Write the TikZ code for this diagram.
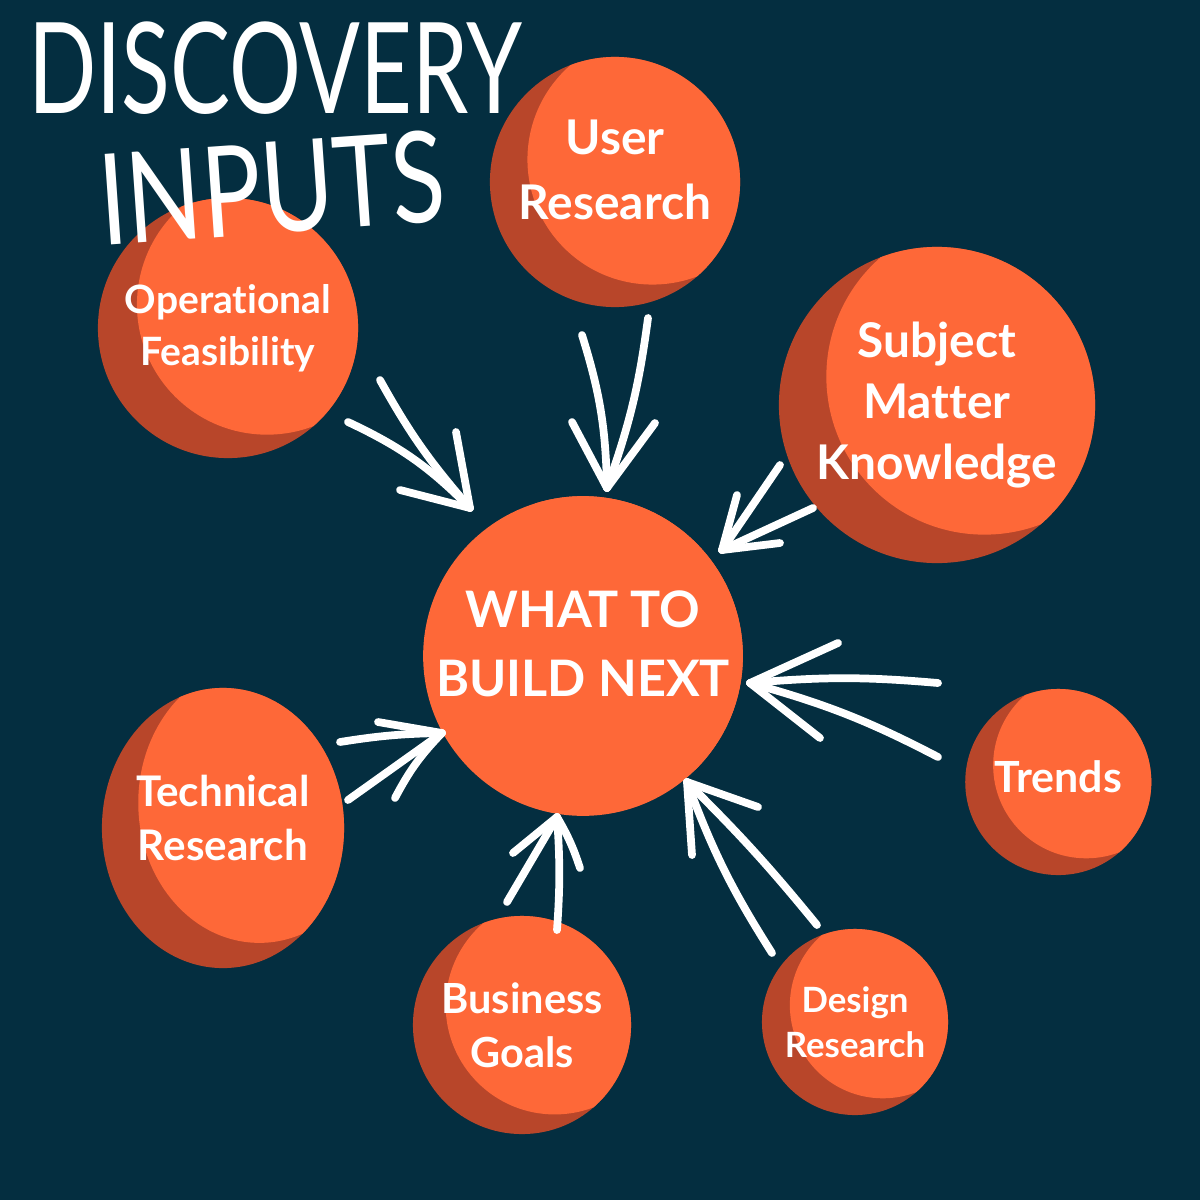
\documentclass[tikz,border=0pt]{standalone}
\usepackage{fontspec}
\setmainfont{Lato}[Ligatures=NoCommon]
\usetikzlibrary{positioning,calc,shapes.geometric}
\definecolor{navy}{RGB}{4,46,64}
\definecolor{orng}{RGB}{254,104,56}
\definecolor{rust}{RGB}{184,70,42}

\begin{document}
\begin{tikzpicture}[x=0.01cm,y=-0.01cm,
  bub/.style={circle,fill=rust,text=white,align=center,inner sep=0pt,minimum size=#1,
    path picture={\fill[orng] ([xshift=0.15*#1,yshift=0.09*#1]path picture bounding box.center) circle ({#1/2});}},
  egg/.style 2 args={ellipse,fill=rust,text=white,align=center,inner sep=0pt,inner xsep=-0.25cm,
    minimum width=#1,minimum height=#2,
    path picture={\fill[orng] ([xshift=0.15*#1,yshift=0.09*#2]path picture bounding box.center)
      ellipse [x radius={#1/2},y radius={#2/2}];}},
  lbl/.style 2 args={font=\fontsize{#1}{#2}\selectfont\bfseries},
  pen/.style={white,line width=2.2pt,line cap=round},
  title/.style={white,inner sep=0pt,font=\fontsize{36}{36}\selectfont}]
\fill[navy] (0,0) rectangle (1200,1200);

\node[bub=2.5cm,lbl={13.6}{18.5},text depth=0.24cm] (user) at (615,182) {User\\Research};
\node[bub=2.6cm,lbl={11.1}{14.8}] (oper) at (228,328) {Operational\\Feasibility};
\node[bub=3.16cm,lbl={13.6}{17.4}] (subj) at (937,405) {Subject\\Matter\\Knowledge};
\node[bub=3.12cm,fill=orng,lbl={14.3}{19.6},text depth=0.24cm] (next) at (583,656) {WHAT TO\\BUILD NEXT};
\node[egg={2.42cm}{2.8cm},lbl={12}{15.4},text depth=0.2cm] (tech) at (223,828) {Technical\\Research};
\node[bub=1.86cm,lbl={12.2}{15},text depth=0.1cm,xshift=1.5pt] (trend) at (1053,782) {Trends};
\node[bub=2.18cm,lbl={11.8}{15.4}] (biz) at (522,1025) {Business\\Goals};
\node[bub=1.86cm,lbl={9.9}{12.8}] (design) at (855,1022) {Design\\Research};

\node[title,xscale=0.71] (disc) at (275,68) {DISCOVERY};
\node[title,rotate=4,xscale=0.78] (inp) at (272,188) {INPUTS};

\coordinate (t1) at (470,508);
\draw[pen] (t1) to[bend left=6] ++(-90,-128);
\draw[pen] (t1) to[bend right=10] ++(-122,-86);
\draw[pen] (t1) -- ++(-70,-18);
\draw[pen] (t1) -- ++(-14,-76);

\coordinate (t2) at (607,488);
\draw[pen] (t2) to[bend right=8] ++(-25,-153);
\draw[pen] (t2) to[bend right=6] ++(41,-170);
\draw[pen] (t2) -- ++(-35,-66);
\draw[pen] (t2) -- ++(48,-65);

\coordinate (t3) at (722,550);
\draw[pen] (t3) -- ++(58,-85);
\draw[pen] (t3) -- ++(91,-42);
\draw[pen] (t3) -- ++(15,-55);
\draw[pen] (t3) -- ++(58,-7);

\coordinate (t4) at (750,683);
\draw[pen] (t4) -- ++(88,-40);
\draw[pen] (t4) to[bend left=5] ++(188,0);
\draw[pen] (t4) to[bend left=6] ++(188,74);
\draw[pen] (t4) -- ++(70,55);

\coordinate (t5) at (442,733);
\draw[pen] (t5) to[bend right=4] ++(-102,9);
\draw[pen] (t5) -- ++(-64,-11);
\draw[pen] (t5) -- ++(-94,67);
\draw[pen] (t5) to[bend right=8] ++(-47,65);

\coordinate (t6) at (557,817);
\draw[pen] (t6) to[bend left=4] ++(0,113);
\draw[pen] (t6) -- ++(-50,85);
\draw[pen] (t6) -- ++(-44,36);
\draw[pen] (t6) to[bend left=6] ++(23,51);

\coordinate (t7) at (687,782);
\draw[pen] (t7) -- ++(71,25);
\draw[pen] (t7) -- ++(5,73);
\draw[pen] (t7) to[bend right=6] ++(85,171);
\draw[pen] (t7) to[bend left=3] ++(130,143);
\end{tikzpicture}
\end{document}
